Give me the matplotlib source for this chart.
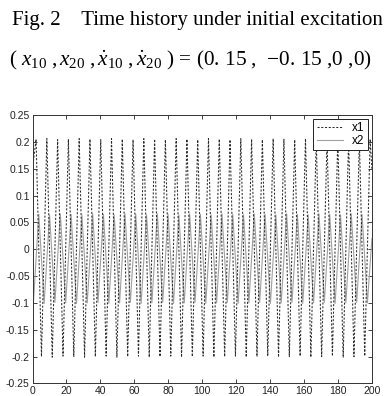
import numpy as np
import matplotlib.pyplot as plt

# extrema (time, displacement)
x1_peak_t = [2.10, 8.45, 14.80, 21.15, 27.50, 33.85, 40.20, 46.55, 52.90, 59.25,
             65.60, 71.95, 78.30, 84.65, 91.00, 97.35, 103.70, 110.05, 116.40, 122.75,
             129.10, 135.45, 141.80, 148.15, 154.50, 160.85, 167.20, 173.55, 179.90,
             186.25, 192.60, 198.95]
x1_peak_v = [0.205, 0.206, 0.204, 0.205, 0.206, 0.205, 0.204, 0.206, 0.205, 0.204,
             0.206, 0.205, 0.204, 0.206, 0.205, 0.204, 0.206, 0.205, 0.204, 0.206,
             0.205, 0.204, 0.206, 0.205, 0.204, 0.206, 0.205, 0.204, 0.206,
             0.205, 0.204, 0.205]
x1_trough_t = [5.28, 11.63, 17.98, 24.33, 30.68, 37.03, 43.38, 49.73, 56.08, 62.43,
               68.78, 75.13, 81.48, 87.83, 94.18, 100.53, 106.88, 113.23, 119.58,
               125.93, 132.28, 138.63, 144.98, 151.33, 157.68, 164.03, 170.38,
               176.73, 183.08, 189.43, 195.78]
x1_trough_v = [-0.200, -0.201, -0.199, -0.200, -0.201, -0.200, -0.199, -0.201, -0.200,
               -0.199, -0.201, -0.200, -0.199, -0.201, -0.200, -0.199, -0.201, -0.200,
               -0.199, -0.201, -0.200, -0.199, -0.201, -0.200, -0.199, -0.201, -0.200,
               -0.199, -0.201, -0.200, -0.199]
x1_ends_t = [0.0, 200.0]
x1_ends_v = [0.15, 0.15]

x2_peak_t = [3.69, 10.04, 16.39, 22.74, 29.09, 35.44, 41.79, 48.14, 54.49, 60.84,
             67.19, 73.54, 79.89, 86.24, 92.59, 98.94, 105.29, 111.64, 117.99, 124.34,
             130.69, 137.04, 143.39, 149.74, 156.09, 162.44, 168.79, 175.14, 181.49,
             187.84, 194.19]
x2_peak_v = [0.065, 0.064, 0.066, 0.065, 0.064, 0.066, 0.065, 0.064, 0.066, 0.065,
             0.064, 0.066, 0.065, 0.064, 0.066, 0.065, 0.064, 0.066, 0.065, 0.064,
             0.066, 0.065, 0.064, 0.066, 0.065, 0.064, 0.066, 0.065, 0.064,
             0.066, 0.065]
x2_trough_t = [0.51, 6.86, 13.21, 19.56, 25.91, 32.26, 38.61, 44.96, 51.31, 57.66,
               64.01, 70.36, 76.71, 83.06, 89.41, 95.76, 102.11, 108.46, 114.81,
               121.16, 127.51, 133.86, 140.21, 146.56, 152.91, 159.26, 165.61,
               171.96, 178.31, 184.66, 191.01, 197.36]
x2_trough_v = [-0.100, -0.101, -0.099, -0.100, -0.101, -0.100, -0.099, -0.101, -0.100,
               -0.099, -0.101, -0.100, -0.099, -0.101, -0.100, -0.099, -0.101, -0.100,
               -0.099, -0.101, -0.100, -0.099, -0.101, -0.100, -0.099, -0.101, -0.100,
               -0.099, -0.101, -0.100, -0.099, -0.100]
x2_ends_t = [0.0, 200.0]
x2_ends_v = [-0.09, 0.02]

x_ticks = list(range(0, 201, 20))
y_ticks = [0.25, 0.2, 0.15, 0.1, 0.05, 0, -0.05, -0.1, -0.15, -0.2, -0.25]
y_tick_labels = ['0.25', '0.2', '0.15', '0.1', '0.05', '0',
                 '-0.05', '-0.1', '-0.15', '-0.2', '-0.25']


def merge(*pairs):
    t = np.concatenate([p[0] for p in pairs])
    v = np.concatenate([p[1] for p in pairs])
    order = np.argsort(t)
    return t[order], v[order]


t1, v1 = merge((x1_peak_t, x1_peak_v), (x1_trough_t, x1_trough_v), (x1_ends_t, x1_ends_v))
t2, v2 = merge((x2_peak_t, x2_peak_v), (x2_trough_t, x2_trough_v), (x2_ends_t, x2_ends_v))

plt.rcParams['mathtext.fontset'] = 'custom'
plt.rcParams['mathtext.rm'] = 'Liberation Serif'
plt.rcParams['mathtext.it'] = 'Liberation Serif:italic'

fig = plt.figure(figsize=(3.87, 3.96), dpi=100)
ax = fig.add_axes([0.084, 0.0316, 0.877, 0.678])

line2, = ax.plot(t2, v2, color='#a0a0a0', lw=0.8, label='x2')
line1, = ax.plot(t1, v1, color='#2a2a2a', lw=0.75, ls=(0, (2.0, 1.6)), label='x1')

ax.set_xlim(0, 200)
ax.set_ylim(-0.25, 0.25)
ax.set_xticks(x_ticks)
ax.set_yticks(y_ticks)
ax.set_yticklabels(y_tick_labels)
ax.tick_params(direction='in', length=3, width=0.6, top=True, right=True,
               labelsize=7.5, pad=2, colors='#222222')
for lab in ax.get_xticklabels() + ax.get_yticklabels():
    lab.set_family('Liberation Sans')
for sp in ax.spines.values():
    sp.set_linewidth(0.7)
    sp.set_color('#333333')

leg = ax.legend(handles=[line1, line2], loc='upper right',
                prop={'family': 'Liberation Sans', 'size': 8.5},
                fancybox=False, framealpha=1, edgecolor='#222222',
                borderaxespad=0.3, handlelength=2.2, labelspacing=0.05,
                borderpad=0.3, handletextpad=0.8)
leg.get_frame().set_linewidth(0.7)

fig.text(0.51, 0.937, 'Fig. 2    Time history under initial excitation',
         ha='center', va='baseline', family='Liberation Serif', fontsize=15)
fig.text(0.493, 0.835,
         r'$(\ x_{10}\ ,x_{20}\ ,\dot{x}_{10}\ ,\dot{x}_{20}\ )$ = (0. 15 ,  $-$0. 15 ,0 ,0)',
         ha='center', va='baseline', family='Liberation Serif', fontsize=15.3)

fig.savefig('out.png', dpi=100)
